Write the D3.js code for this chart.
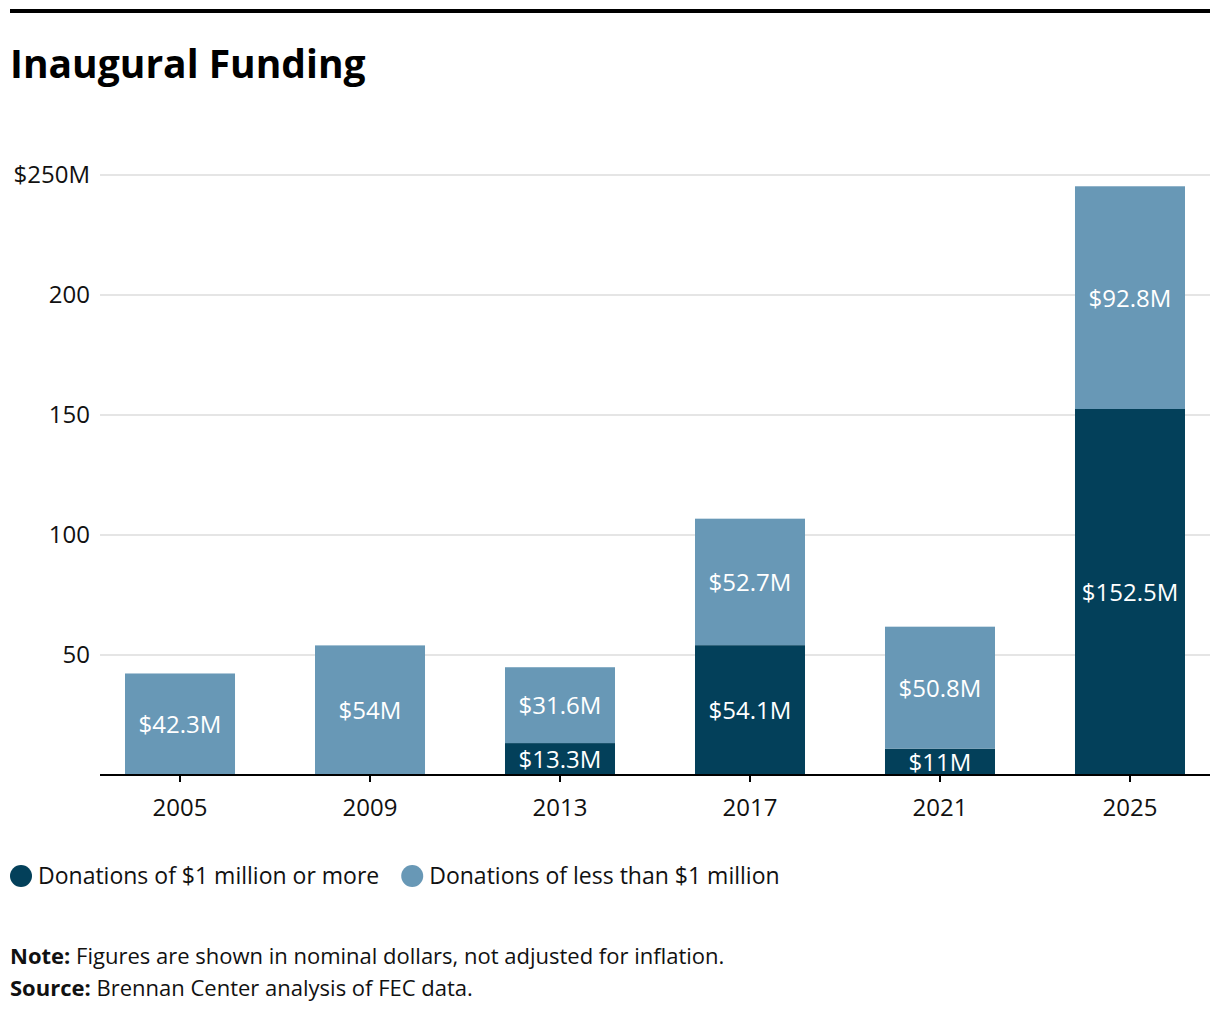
<!DOCTYPE html>
<html>
<head>
<meta charset="utf-8">
<script src="https://cdn.jsdelivr.net/npm/d3@7"></script>
<style>
  body { margin: 0; background: #fff; }
  svg text { font-family: "Open Sans", "Noto Sans", sans-serif; }
</style>
</head>
<body>
<div id="chart"></div>
<script>
const years = ["2005", "2009", "2013", "2017", "2021", "2025"];
const bigDonations = [0, 0, 13.3, 54.1, 11, 152.5];
const smallDonations = [42.3, 54, 31.6, 52.7, 50.8, 92.8];
const yTicks = [50, 100, 150, 200, 250];
const legendLabels = ["Donations of $1 million or more", "Donations of less than $1 million"];

const width = 1220, height = 1016;
const colors = ["#03405a", "#6898b6"];

const svg = d3.select("#chart").append("svg")
    .attr("width", width)
    .attr("height", height);

// top rule
svg.append("rect").attr("x", 10).attr("y", 9).attr("width", 1200).attr("height", 4).attr("fill", "#000");

svg.append("text")
    .attr("x", 10).attr("y", 78)
    .attr("font-size", "39px")
    .attr("font-weight", "bold")
    .text("Inaugural Funding");

const x = d3.scaleBand()
    .domain(years)
    .range([100, 1210])
    .paddingInner(0.421)
    .paddingOuter(0.1316);

const y = d3.scaleLinear().domain([0, 250]).range([775, 175]);

// gridlines + labels
const grid = svg.append("g");
yTicks.forEach(t => {
    grid.append("line")
        .attr("x1", 100).attr("x2", 1210)
        .attr("y1", y(t)).attr("y2", y(t))
        .attr("stroke", "#dcdcdc").attr("stroke-width", 1.5);
    grid.append("text")
        .attr("x", 90).attr("y", y(t) + 8)
        .attr("text-anchor", "end")
        .attr("font-size", "24px")
        .attr("fill", "#111")
        .text(t === 250 ? "$250M" : t);
});

const keys = ["big", "small"];
const rows = years.map((yr, i) => ({ year: yr, big: bigDonations[i], small: smallDonations[i] }));
const stack = d3.stack().keys(keys)(rows);

stack.forEach((layer, li) => {
    const key = keys[li];
    svg.append("g").selectAll("rect")
        .data(layer)
        .enter().append("rect")
        .attr("x", d => x(d.data.year))
        .attr("width", x.bandwidth())
        .attr("y", d => y(d[1]))
        .attr("height", d => y(d[0]) - y(d[1]))
        .attr("fill", colors[li]);

    svg.append("g").selectAll("text")
        .data(layer.filter(d => d.data[key] > 0))
        .enter().append("text")
        .attr("x", d => x(d.data.year) + x.bandwidth() / 2)
        .attr("y", d => (y(d[0]) + y(d[1])) / 2 + 9)
        .attr("text-anchor", "middle")
        .attr("font-size", "24px")
        .attr("fill", "#fff")
        .text(d => "$" + d.data[key] + "M");
});

// baseline and ticks
svg.append("line")
    .attr("x1", 100).attr("x2", 1210)
    .attr("y1", 775).attr("y2", 775)
    .attr("stroke", "#000").attr("stroke-width", 2);

years.forEach(yr => {
    const cx = x(yr) + x.bandwidth() / 2;
    svg.append("line")
        .attr("x1", cx).attr("x2", cx)
        .attr("y1", 775).attr("y2", 782)
        .attr("stroke", "#000").attr("stroke-width", 2);
    svg.append("text")
        .attr("x", cx).attr("y", 816)
        .attr("text-anchor", "middle")
        .attr("font-size", "24px")
        .attr("fill", "#111")
        .text(yr);
});

// legend
const legend = svg.append("g");
let lx = 10;
legendLabels.forEach((lab, i) => {
    legend.append("circle")
        .attr("cx", lx + 11).attr("cy", 876).attr("r", 11)
        .attr("fill", colors[i]);
    const t = legend.append("text")
        .attr("x", lx + 28).attr("y", 884)
        .attr("font-size", "23px")
        .attr("fill", "#111")
        .text(lab);
    lx = lx + 28 + t.node().getComputedTextLength() + 22;
});

// note and source
const notes = [["Note:", " Figures are shown in nominal dollars, not adjusted for inflation."],
               ["Source:", " Brennan Center analysis of FEC data."]];
notes.forEach((n, i) => {
    const t = svg.append("text")
        .attr("x", 10).attr("y", 964 + i * 32)
        .attr("font-size", "22px")
        .attr("fill", "#111");
    t.append("tspan").attr("font-weight", "bold").text(n[0]);
    t.append("tspan").text(n[1]);
});
</script>
</body>
</html>
